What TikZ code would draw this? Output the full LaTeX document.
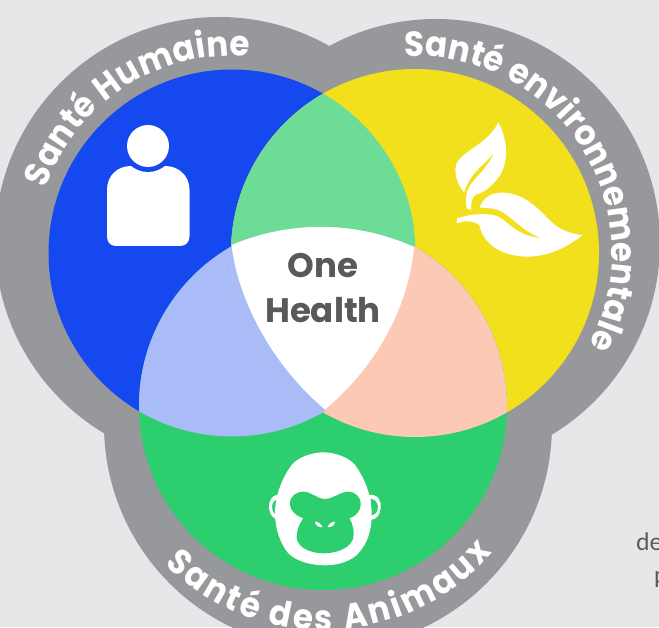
\documentclass[tikz,border=0pt]{standalone}
\usepackage{fontspec}
\setmainfont{Poppins}
\newfontfamily\labelfont{Lato}
\newfontfamily\ringfont[FakeStretch=0.93,BoldFeatures={FakeStretch=0.93}]{Poppins}
\usetikzlibrary{decorations.text}
\definecolor{pagebg}{HTML}{E6E7E9}
\definecolor{ring}{HTML}{97989B}
\definecolor{hblue}{HTML}{1549EF}
\definecolor{hyellow}{HTML}{F3E01C}
\definecolor{hgreen}{HTML}{2CCE6E}
\definecolor{lensgreen}{HTML}{6CDC97}
\definecolor{lensblue}{HTML}{A9BCF7}
\definecolor{lenspink}{HTML}{FBC9B4}
\definecolor{inktext}{HTML}{58595B}
\tikzset{
  ringlabel/.style={decorate,decoration={text along path,text align=fit to path,
    text={|\ringfont\fontsize{35}{35}\selectfont\bfseries\color{white}|#1}}},
  centertext/.style={text=inktext,font=\fontsize{34}{34}\selectfont\bfseries,inner sep=0pt,anchor=base},
  cliptext/.style={text=inktext,font=\labelfont\fontsize{24}{24}\selectfont,inner sep=0pt,anchor=base west}
}
\begin{document}
\begin{tikzpicture}[x=1pt,y=1pt]
\useasboundingbox (0,0) rectangle (659,627);
\clip (0,0) rectangle (659,627);
\fill[pagebg] (0,0) rectangle (659,627);
\node[cliptext] (frag1) at (636,76) {de};
\node[cliptext] (frag2) at (654,44) {p};
% ring
\fill[ring] (219,386) circle (224) (436,384) circle (224) (328,202) circle (224);
% discs
\fill[hblue] (232,374) circle (183.5);
\fill[hyellow] (415,374) circle (184);
\fill[hgreen] (323,221) circle (184);
\begin{scope}\clip (232,374) circle (183.5); \fill[lensgreen] (415,374) circle (184);\end{scope}
\begin{scope}\clip (232,374) circle (183.5); \fill[lensblue] (323,221) circle (184);\end{scope}
\begin{scope}\clip (415,374) circle (184); \fill[lenspink] (323,221) circle (184);\end{scope}
\begin{scope}\clip (232,374) circle (183.5); \clip (415,374) circle (184);
  \begin{scope}\clip (100,100) rectangle (324.5,500); \fill[lensblue] (323,221) circle (184);\end{scope}
  \fill[lensgreen] (231.5,382) .. controls (290,406.5) and (355,406.5) .. (414,380) -- (414,440) -- (231.5,440) -- cycle;
\end{scope}
\fill[white] (231.5,382) .. controls (290,406.5) and (355,406.5) .. (414,380)
  .. controls (409,322) and (378,262) .. (325,217.5)
  .. controls (272,262) and (238,327) .. (231.5,382) -- cycle;
% centre text
\node[centertext] (one) at (323,349) {One};
\node[centertext] (health) at (323,304) {Health};
% ring labels
\path[ringlabel={Santé Humaine}] (232,374) ++(161:197) arc[start angle=161,end angle=85,radius=197];
\path[ringlabel={Santé environnementale}] (415,374) ++(93:197) arc[start angle=93,end angle=-28,radius=197];
\path[ringlabel={Santé des Animaux}] (323,221) ++(225:224) arc[start angle=225,end angle=319,radius=224];
% person
\fill[white] (107,437) .. controls (107,452) and (118,461) .. (131,461) -- (165,461)
  .. controls (178,461) and (189.5,452) .. (189.5,437) -- (189.5,391)
  .. controls (189.5,385) and (186,381) .. (180,381) -- (116,381)
  .. controls (110,381) and (107,385) .. (107,391) -- cycle;
\fill[hblue] (148,481) circle (26);
\fill[white] (148,481) circle (21);
% leaves
\begin{scope}[shift={(440,517)},x=0.3333pt,y=-0.3333pt]
\fill[white] (175,38) .. controls (205,90) and (210,170) .. (165,215)
  .. controls (145,238) and (125,250) .. (105,255)
  .. controls (95,265) and (93,280) .. (93,300)
  -- (80,295) .. controls (76,270) and (78,250) .. (85,235)
  .. controls (100,205) and (140,180) .. (162,128)
  .. controls (135,165) and (95,180) .. (72,247)
  .. controls (50,220) and (40,185) .. (50,160)
  .. controls (70,120) and (140,105) .. (175,38) -- cycle;
\fill[white] (50,340) -- (52,325) .. controls (90,312) and (130,310) .. (160,315)
  .. controls (205,325) and (215,375) .. (305,385)
  .. controls (250,365) and (225,330) .. (190,308)
  .. controls (170,295) and (145,293) .. (118,293)
  .. controls (130,265) and (150,248) .. (185,248)
  .. controls (240,248) and (280,280) .. (320,322)
  .. controls (350,355) and (385,372) .. (428,375)
  .. controls (395,400) and (340,440) .. (260,440)
  .. controls (180,438) and (130,400) .. (118,345)
  .. controls (95,330) and (70,332) .. (50,340) -- cycle;
\end{scope}
% gorilla
\begin{scope}[shift={(240,187)},x=0.3333pt,y=-0.3333pt]
\fill[white] (125,165) .. controls (95,160) and (85,185) .. (87,205) .. controls (90,225) and (100,238) .. (118,240) -- cycle;
\fill[white] (385,165) .. controls (415,160) and (425,185) .. (422,205) .. controls (420,225) and (410,238) .. (392,240) -- cycle;
\fill[hgreen] (118,176) .. controls (100,178) and (94,195) .. (97,208) .. controls (100,220) and (108,226) .. (118,228) -- cycle;
\fill[hgreen] (392,176) .. controls (410,178) and (416,195) .. (413,208) .. controls (410,220) and (402,226) .. (392,228) -- cycle;
\fill[white] (250,37) .. controls (280,37) and (325,50) .. (345,75)
  .. controls (375,115) and (395,170) .. (395,220)
  .. controls (395,270) and (385,310) .. (350,345)
  .. controls (325,368) and (285,376) .. (255,376)
  .. controls (215,376) and (170,365) .. (145,340)
  .. controls (120,310) and (105,265) .. (105,220)
  .. controls (105,170) and (125,115) .. (155,75)
  .. controls (175,50) and (220,37) .. (250,37) -- cycle;
\fill[hgreen] (150,190) .. controls (150,168) and (170,155) .. (190,155)
  .. controls (215,155) and (230,177) .. (255,177)
  .. controls (280,177) and (300,155) .. (325,155)
  .. controls (345,155) and (362,170) .. (362,192)
  .. controls (362,215) and (345,230) .. (328,235)
  .. controls (340,255) and (345,275) .. (338,300)
  .. controls (325,328) and (285,340) .. (250,340)
  .. controls (215,340) and (175,325) .. (170,295)
  .. controls (170,270) and (178,250) .. (190,235)
  .. controls (170,228) and (150,215) .. (150,190) -- cycle;
\fill[white] (225,245) .. controls (235,245) and (245,252) .. (247,262) .. controls (235,262) and (225,255) .. (225,245) -- cycle;
\fill[white] (285,245) .. controls (275,245) and (265,252) .. (263,262) .. controls (275,262) and (285,255) .. (285,245) -- cycle;
\end{scope}
\end{tikzpicture}
\end{document}
